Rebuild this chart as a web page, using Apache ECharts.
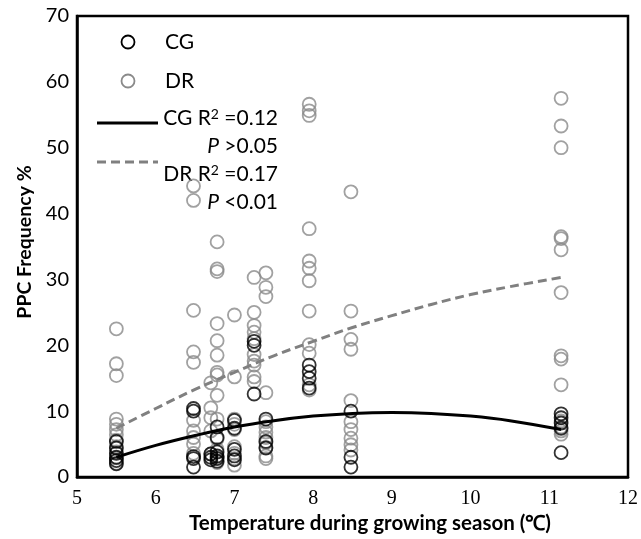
<!DOCTYPE html>
<html>
<head>
<meta charset="utf-8">
<script src="https://cdn.jsdelivr.net/npm/echarts@6/dist/echarts.min.js"></script>
<style>
html,body{margin:0;padding:0;background:#fff;}
#chart{width:641px;height:539px;}
</style>
</head>
<body>
<div id="chart"></div>
<script>
// Temperatures (x positions of the sample groups)
const temps = [5.5, 6.48, 6.7, 6.78, 7.0, 7.25, 7.4, 7.95, 8.48, 11.15];

// CG PPC frequency values per temperature group
const cgValues = [
  [5.4, 4.4, 3.6, 3.0, 2.5, 2.0],
  [10.4, 10.0, 3.1, 2.8, 1.5],
  [3.5, 3.0, 2.6],
  [7.6, 6.0, 3.8, 3.2, 2.8, 2.4],
  [8.6, 7.4, 4.2, 3.2, 2.6],
  [20.6, 20.0, 12.6],
  [8.8, 5.4, 4.4],
  [17.0, 16.0, 15.0, 13.5],
  [10.0, 3.0, 1.5],
  [9.6, 9.0, 8.2, 7.4, 3.7]
];

// DR PPC frequency values per temperature group
const drValues = [
  [22.5, 17.2, 15.4, 8.8, 8.0, 7.2, 6.4, 5.6, 4.6, 3.8, 2.9, 2.1],
  [44.2, 42.0, 25.3, 19.0, 17.4, 8.6, 7.0, 6.0, 5.0, 3.6],
  [14.3, 10.5, 9.0, 7.0, 3.5],
  [35.7, 31.6, 31.2, 23.3, 20.7, 18.5, 15.9, 15.5, 12.4, 8.8, 5.8, 4.2, 3.0, 2.2],
  [24.6, 15.2, 8.8, 8.0, 7.2, 4.6, 3.6, 2.8, 1.8],
  [30.3, 25.0, 23.0, 22.0, 21.0, 18.6, 17.6, 17.0, 15.2, 14.5],
  [31.0, 28.8, 27.4, 12.8, 8.4, 7.6, 6.8, 6.0, 5.2, 4.5, 3.2, 2.8],
  [56.6, 55.6, 54.9, 37.7, 32.8, 31.7, 29.8, 25.2, 20.1, 18.8, 14.0, 13.2],
  [43.3, 25.2, 20.9, 19.4, 11.6, 8.4, 7.2, 5.9, 4.9, 4.1],
  [57.5, 53.3, 50.0, 36.5, 36.2, 34.5, 28.0, 18.4, 17.9, 14.0, 8.5, 7.6, 7.0, 6.5]
];

// Fitted trend curves
const fitX  = [5.5, 6.0, 6.5, 7.0, 7.5, 8.0, 8.5, 9.0, 9.5, 10.0, 10.5, 11.15];
const cgFit = [3.0, 4.8, 6.3, 7.6, 8.55, 9.25, 9.66, 9.8, 9.66, 9.25, 8.55, 7.2];
const drFit = [7.4, 10.4, 13.3, 15.9, 18.4, 20.6, 22.7, 24.5, 26.2, 27.7, 28.9, 30.3];

// Axis tick settings
const xTicks = [5, 6, 7, 8, 9, 10, 11, 12];
const yTicks = [0, 10, 20, 30, 40, 50, 60, 70];

function points(xs, groups) {
  const out = [];
  groups.forEach((g, i) => g.forEach(v => out.push([xs[i], v])));
  return out;
}
function pairs(xs, ys) { return xs.map((x, i) => [x, ys[i]]); }

const chart = echarts.init(document.getElementById('chart'), null, {renderer: 'canvas'});
const uiFont = 'Lato';
const legRich = {
  a: {fontFamily: uiFont, fontSize: 21, fill: '#000', verticalAlign: 'bottom'},
  s: {fontFamily: uiFont, fontSize: 14, fill: '#000', verticalAlign: 'top'},
  i: {fontFamily: uiFont, fontStyle: 'italic', fontSize: 21, fill: '#000'}
};
chart.setOption({
  animation: false,
  backgroundColor: '#fff',
  grid: {left: 77, right: 13, top: 16, bottom: 62, show: true, borderColor: '#000', borderWidth: 2.5, containLabel: false},
  xAxis: {
    type: 'value', min: xTicks[0], max: xTicks[xTicks.length - 1], interval: 1,
    axisLine: {show: true, lineStyle: {color: '#000', width: 2.5}},
    axisTick: {show: false}, splitLine: {show: false},
    axisLabel: {color: '#000', fontFamily: 'Liberation Serif', fontSize: 20, margin: 12}
  },
  yAxis: {
    type: 'value', min: yTicks[0], max: yTicks[yTicks.length - 1], interval: 10,
    axisLine: {show: true, lineStyle: {color: '#000', width: 2.5}},
    axisTick: {show: false}, splitLine: {show: false},
    axisLabel: {color: '#000', fontFamily: uiFont, fontSize: 20, margin: 8}
  },
  series: [
    {
      name: 'DR', type: 'scatter', symbol: 'circle', symbolSize: 13,
      itemStyle: {color: 'rgba(0,0,0,0)', borderColor: '#8a8a8a', borderWidth: 1.8},
      data: points(temps, drValues), z: 2
    },
    {
      name: 'CG', type: 'scatter', symbol: 'circle', symbolSize: 13,
      itemStyle: {color: 'rgba(0,0,0,0)', borderColor: '#000', borderWidth: 1.8},
      data: points(temps, cgValues), z: 3
    },
    {
      name: 'CG fit', type: 'line', smooth: 0.4, showSymbol: false, symbol: 'none',
      lineStyle: {color: '#000', width: 3}, data: pairs(fitX, cgFit), z: 4
    },
    {
      name: 'DR fit', type: 'line', smooth: 0.4, showSymbol: false, symbol: 'none',
      lineStyle: {color: '#808080', width: 3, type: [9, 5]}, data: pairs(fitX, drFit), z: 4
    }
  ],
  graphic: [
    {type: 'circle', shape: {cx: 128, cy: 42, r: 6.5}, style: {fill: 'none', stroke: '#000', lineWidth: 1.8}},
    {type: 'text', x: 165, y: 42, style: {text: 'CG', font: '21px Lato', fill: '#000', verticalAlign: 'middle'}},
    {type: 'circle', shape: {cx: 128, cy: 81, r: 6.5}, style: {fill: 'none', stroke: '#8a8a8a', lineWidth: 1.8}},
    {type: 'text', x: 165, y: 81, style: {text: 'DR', font: '21px Lato', fill: '#000', verticalAlign: 'middle'}},
    {type: 'line', shape: {x1: 97, y1: 123, x2: 158, y2: 123}, style: {stroke: '#000', lineWidth: 3}},
    {type: 'line', shape: {x1: 97, y1: 162, x2: 158, y2: 162}, style: {stroke: '#808080', lineWidth: 3, lineDash: [9, 5]}},
    {type: 'text', x: 278, y: 118, style: {text: '{a|CG R}{s|2}{a| =0.12}', align: 'right', verticalAlign: 'middle', rich: legRich}},
    {type: 'text', x: 278, y: 146, style: {text: '{i|P}{a| >0.05}', align: 'right', verticalAlign: 'middle', rich: legRich}},
    {type: 'text', x: 278, y: 174, style: {text: '{a|DR R}{s|2}{a| =0.17}', align: 'right', verticalAlign: 'middle', rich: legRich}},
    {type: 'text', x: 278, y: 202, style: {text: '{i|P}{a| <0.01}', align: 'right', verticalAlign: 'middle', rich: legRich}},
    {type: 'text', x: 370, y: 523, style: {text: 'Temperature during growing season (℃)', font: 'bold 20.5px Lato', fill: '#000', align: 'center', verticalAlign: 'middle'}},
    {type: 'text', x: 25, y: 242, rotation: Math.PI / 2, style: {text: 'PPC Frequency %', font: 'bold 19.5px Lato', fill: '#000', align: 'center', verticalAlign: 'middle'}}
  ]
});
</script>
</body>
</html>
